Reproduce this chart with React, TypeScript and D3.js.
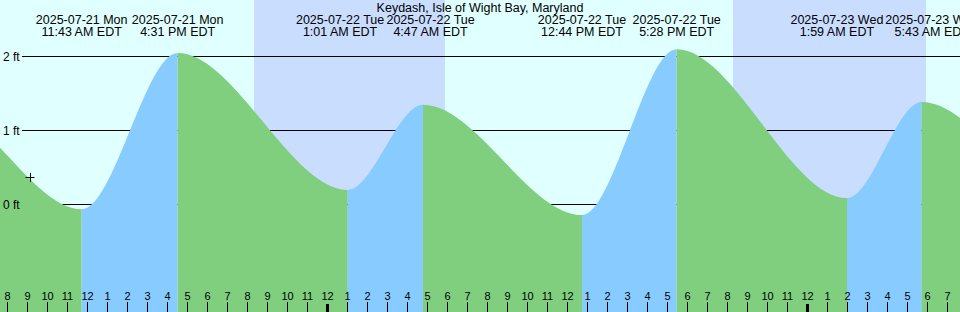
import React from "react";
import * as d3 from "d3";

const W = 960;
const H = 312;

const title = "Keydash, Isle of Wight Bay, Maryland";
const domainTimes = ["2025-07-21T07:38", "2025-07-23T07:38"];

// Tide extremes (local EDT clock time) and levels in ft
const tideTimes = [
  "2025-07-20T22:40",
  "2025-07-21T04:30",
  "2025-07-21T11:43",
  "2025-07-21T16:31",
  "2025-07-22T01:01",
  "2025-07-22T04:47",
  "2025-07-22T12:44",
  "2025-07-22T17:28",
  "2025-07-23T01:59",
  "2025-07-23T05:43",
  "2025-07-23T14:00",
  "2025-07-23T18:40",
];
const tideLevels = [0.15, 1.32, -0.07, 2.04, 0.19, 1.34, -0.15, 2.09, 0.08, 1.38, -0.2, 2.1];

const nightStarts = ["2025-07-21T20:20", "2025-07-22T20:17"];
const nightEnds = ["2025-07-22T05:53", "2025-07-23T05:56"];

const depthTicks = [0, 1, 2];
const markerTime = "2025-07-21T09:08";
const markerLevel = 0.36;

const parse = d3.utcParse("%Y-%m-%dT%H:%M");
const fmtDate = d3.utcFormat("%Y-%m-%d %a");
const fmtTime = d3.utcFormat("%-I:%M %p EDT");
const fmtHour = d3.utcFormat("%-I");

const FONT = "'Liberation Sans', Arial, Helvetica, sans-serif";
const LABEL_SIZE = 12.5;
const DAY = "#e0ffff";
const NIGHT = "#c9ddff";
const RISE = "#88ccff";
const FALL = "#7fcf7f";

function measure(text: string, size: number): number {
  try {
    const c = document.createElement("canvas").getContext("2d");
    if (c) {
      c.font = `${size}px ${FONT}`;
      return c.measureText(text).width;
    }
  } catch (e) {}
  return text.length * size * 0.55;
}

export default function App() {
  const domain = domainTimes.map((s) => parse(s) as Date);
  const x = d3.scaleUtc().domain(domain).range([0, W]);
  const y = d3.scaleLinear().domain([0, 2]).range([204, 56]);

  const pts = tideTimes.map((s, i) => ({ t: parse(s) as Date, v: tideLevels[i] }));
  const area = d3
    .area<{ t: Date; v: number }>()
    .x((d) => x(d.t))
    .y0(H)
    .y1((d) => y(d.v))
    .curve(d3.curveMonotoneX);
  const areaPath = area(pts) || "";

  const segments = pts.slice(0, -1).map((p, i) => {
    const q = pts[i + 1];
    return { x0: x(p.t), x1: x(q.t), rising: q.v > p.v };
  });

  const nights = nightStarts.map((s, i) => ({ a: parse(s) as Date, b: parse(nightEnds[i]) as Date }));

  const hours = x.ticks(d3.utcHour.every(1) as any) as Date[];

  // event labels, pushed apart when they would overlap
  const labels = pts
    .filter((p) => p.t >= domain[0] && p.t <= domain[1])
    .map((p) => {
      const a = fmtDate(p.t);
      const b = fmtTime(p.t);
      return { a, b, cx: x(p.t), w: Math.max(measure(a, LABEL_SIZE), measure(b, LABEL_SIZE)) };
    });
  const GAP = 2;
  for (let i = 0; i < labels.length - 1; i++) {
    const need = (labels[i].w + labels[i + 1].w) / 2 + GAP;
    const dist = labels[i + 1].cx - labels[i].cx;
    if (dist < need) {
      const o = (need - dist) / 2;
      labels[i].cx -= o;
      labels[i + 1].cx += o;
    }
  }

  const mx = x(parse(markerTime) as Date);
  const my = y(markerLevel);

  return (
    <svg
      width={W}
      height={H}
      style={{ position: "absolute", left: 0, top: 0, display: "block" }}
      fontFamily={FONT}
    >
      <defs>
        {segments.map((s, i) => (
          <clipPath id={`seg${i}`} key={i}>
            <rect x={s.x0} y={0} width={Math.max(0, s.x1 - s.x0)} height={H} />
          </clipPath>
        ))}
      </defs>
      <rect x={0} y={0} width={W} height={H} fill={DAY} />
      {nights.map((n, i) => (
        <rect key={i} x={x(n.a)} y={0} width={x(n.b) - x(n.a)} height={H} fill={NIGHT} />
      ))}
      {depthTicks.map((d) => (
        <line key={d} x1={22} x2={W} y1={Math.round(y(d)) + 0.5} y2={Math.round(y(d)) + 0.5} stroke="#000" strokeWidth={1} />
      ))}
      {segments.map((s, i) => (
        <path key={i} d={areaPath} fill={s.rising ? RISE : FALL} clipPath={`url(#seg${i})`} />
      ))}
      {depthTicks.map((d) => (
        <text key={d} x={3} y={y(d) + 4.5} fontSize={12} fill="#000">
          {`${d} ft`}
        </text>
      ))}
      <g stroke="#000" strokeWidth={1}>
        <line x1={mx - 4.5} x2={mx + 4.5} y1={Math.round(my) + 0.5} y2={Math.round(my) + 0.5} />
        <line x1={Math.round(mx) + 0.5} x2={Math.round(mx) + 0.5} y1={my - 4.5} y2={my + 4.5} />
      </g>
      <text x={W / 2} y={12} textAnchor="middle" fontSize={LABEL_SIZE} fill="#000">
        {title}
      </text>
      {labels.map((l, i) => (
        <g key={i} fontSize={LABEL_SIZE} textAnchor="middle" fill="#000">
          <text x={l.cx} y={24}>{l.a}</text>
          <text x={l.cx} y={36}>{l.b}</text>
        </g>
      ))}
      {hours.map((h, i) => {
        const hx = Math.round(x(h));
        const mid = h.getUTCHours() === 0;
        return (
          <g key={i}>
            <rect x={mid ? hx - 1 : hx} y={mid ? 304 : 302} width={mid ? 3 : 1} height={mid ? 8 : 10} fill="#000" />
            <text x={hx + 0.5} y={300} fontSize={11} textAnchor="middle" fill="#000">
              {fmtHour(h)}
            </text>
          </g>
        );
      })}
    </svg>
  );
}
